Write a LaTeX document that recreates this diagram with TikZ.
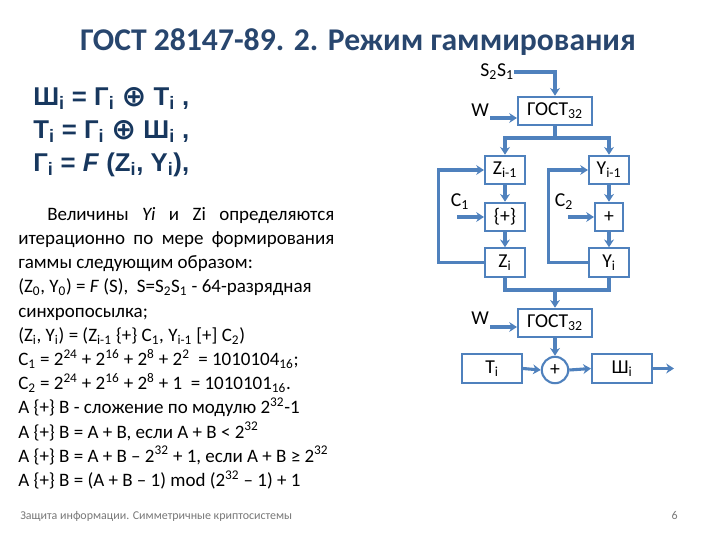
\documentclass[tikz,border=0pt]{standalone}
\usepackage{fontspec}
\setmainfont{Carlito}
\newfontfamily\formfont{Liberation Sans}
\newfontfamily\signfont{DejaVu Sans}
\usepackage{tikz}
\usetikzlibrary{positioning,calc,arrows.meta}

\definecolor{linkblue}{RGB}{79,129,189}
\definecolor{titleblue}{RGB}{40,70,110}
\definecolor{formblue}{RGB}{23,55,94}
\definecolor{footgray}{RGB}{120,120,120}

\newcommand{\xorsign}{\raisebox{-0.06em}{\scalebox{1.15}{\signfont ⊕}}}

\begin{document}
\begin{tikzpicture}[
            x=0.025cm, y=-0.025cm,
            >= {Stealth[length=5.5pt,width=7pt]},
            link/.style={
                ->,
                draw=linkblue,
                line width=2.2pt
            },
            wire/.style={
                draw=linkblue,
                line width=2.2pt
            },
            block/.style={
                rectangle,
                draw=linkblue,
                line width=1.5pt,
                fill=white,
                inner sep=0pt,
                minimum height=0.71cm,
                font=\fontsize{14}{16}\selectfont
            },
            reg/.style={
                block,
                minimum width=1.0cm
            },
            wide/.style={
                block,
                minimum width=1.85cm
            },
            cell/.style={
                block,
                minimum width=1.5cm
            },
            adder/.style={
                circle,
                draw=linkblue,
                line width=1.5pt,
                fill=white,
                inner sep=0pt,
                minimum size=0.66cm,
                font=\fontsize{14}{16}\selectfont
            },
            tag/.style={
                inner sep=0pt,
                font=\fontsize{14}{16}\selectfont
            },
            formula/.style={
                anchor=base west,
                inner sep=0pt,
                text=formblue,
                font=\formfont\fontsize{18.3}{22}\selectfont\bfseries
            },
        ]
            \useasboundingbox (0,0) rectangle (720,540);

            % title and formulas
            \node[font=\fontsize{22.5}{26}\selectfont\bfseries, text=titleblue] (title) at (358,42) {ГОСТ 28147-89. 2. Режим гаммирования};

            \node[formula] (f1) at (33,105) {Ш\textsubscript{i} = Г\textsubscript{i} \xorsign{} T\textsubscript{i} ,};
            \node[formula] (f2) at (33,138) {T\textsubscript{i} = Г\textsubscript{i} \xorsign{} Ш\textsubscript{i} ,};
            \node[formula] (f3) at (33,171) {Г\textsubscript{i} = \textit{F} (Z\textsubscript{i}, Y\textsubscript{i}),};

            \node[anchor=north west, align=left, inner sep=0pt,
                  font=\fontsize{13.5}{17.2}\selectfont] (notes) at (18,207) {%
                \hspace*{0.725cm}\makebox[7.175cm][s]{Величины \textit{Yi} и Zi определяются}\\
                \makebox[7.9cm][s]{итерационно по мере формирования}\\
                гаммы следующим образом:\\
                (Z\textsubscript{0}, Y\textsubscript{0}) = \textit{F} (S),\ \ S=S\textsubscript{2}S\textsubscript{1} - 64-разрядная\\
                синхропосылка;\\
                (Z\textsubscript{i}, Y\textsubscript{i}) = (Z\textsubscript{i-1} \{+\} C\textsubscript{1}, Y\textsubscript{i-1} [+] C\textsubscript{2})\\
                C\textsubscript{1} = 2\textsuperscript{24} + 2\textsuperscript{16} + 2\textsuperscript{8} + 2\textsuperscript{2}\ \ = 1010104\textsubscript{16};\\
                C\textsubscript{2} = 2\textsuperscript{24} + 2\textsuperscript{16} + 2\textsuperscript{8} + 1\ \ = 1010101\textsubscript{16}.\\
                A \{+\} B - сложение по модулю 2\textsuperscript{32}-1\\
                A \{+\} B = A + B, если A + B < 2\textsuperscript{32}\\
                A \{+\} B = A + B – 2\textsuperscript{32} + 1, если A + B ≥ 2\textsuperscript{32}\\
                A \{+\} B = (A + B – 1) mod (2\textsuperscript{32} – 1) + 1};

            % footer
            \node[anchor=base west, inner sep=0pt, text=footgray, font=\fontsize{8.5}{10}\selectfont] (foot) at (20,519) {Защита информации. Симметричные криптосистемы};
            \node[anchor=base east, inner sep=0pt, text=footgray, font=\fontsize{8.5}{10}\selectfont] (page) at (678,519) {6};

            % upper GOST and the two registers
            \node[wide] (gost1) at (555,111) {ГОСТ\textsubscript{32}};
            \node[tag] (s21) at (497,72) {S\textsubscript{2}S\textsubscript{1}};
            \node[tag] (w1) at (480,110) {W};
            \coordinate (w1s) at (490,118);
            \coordinate (split) at (555,138);

            \node[reg] (zprev) at (505,170) {Z\textsubscript{i-1}};
            \node[reg] (zadd) at (505,217) {\{+\}};
            \node[reg] (zcur) at (505,262.5) {Z\textsubscript{i}};

            \node[reg] (yprev) at (609,170) {Y\textsubscript{i-1}};
            \node[block, minimum width=0.7cm] (yadd) at (609,217) {+};
            \node[reg] (ycur) at (609,262.5) {Y\textsubscript{i}};

            \node[tag] (c1) at (460,202) {C\textsubscript{1}};
            \coordinate (c1s) at (457,217);
            \node[tag] (c2) at (564,202) {C\textsubscript{2}};
            \coordinate (c2s) at (568,217);

            % lower GOST and the output
            \coordinate (merge) at (555,290);
            \node[wide] (gost2) at (555,323) {ГОСТ\textsubscript{32}};
            \node[tag] (w2) at (480,318) {W};
            \coordinate (w2s) at (490,327);

            \node[cell] (ti) at (492,368.5) {T\textsubscript{i}};
            \node[adder] (xor) at (555,370) {+};
            \node[cell] (shi) at (622,368.5) {Ш\textsubscript{i}};
            \coordinate (out) at (674,368.5);

            \draw[link] (s21.east) -| (gost1.north);
            \draw[link] (w1s) -- (w1s -| gost1.west);
            \draw[link] (gost1.south) -- (split) -| (zprev.north);
            \draw[link] (split) -| (yprev.north);

            \draw[link] (zprev) -- (zadd);
            \draw[link] (zadd) -- (zcur);
            \draw[link] (zcur.west) -- ++(-45,0) |- (zprev.west);
            \draw[link] (c1s) -- (zadd.west);

            \draw[link] (yprev) -- (yadd);
            \draw[link] (yadd) -- (ycur);
            \draw[link] (ycur.west) -- ++(-39,0) |- (yprev.west);
            \draw[link] (c2s) -- (yadd.west);

            \draw[wire] (zcur.south) |- (merge) -| (ycur.south);
            \draw[link] (merge) -- (gost2.north);
            \draw[link] (w2s) -- (w2s -| gost2.west);
            \draw[link] (gost2.south) -- (xor.north);
            \draw[link] (ti.east) -- (xor.west);
            \draw[link] (xor.east) -- (shi.west);
            \draw[link] (shi.east) -- (out);
        \end{tikzpicture}
\end{document}
